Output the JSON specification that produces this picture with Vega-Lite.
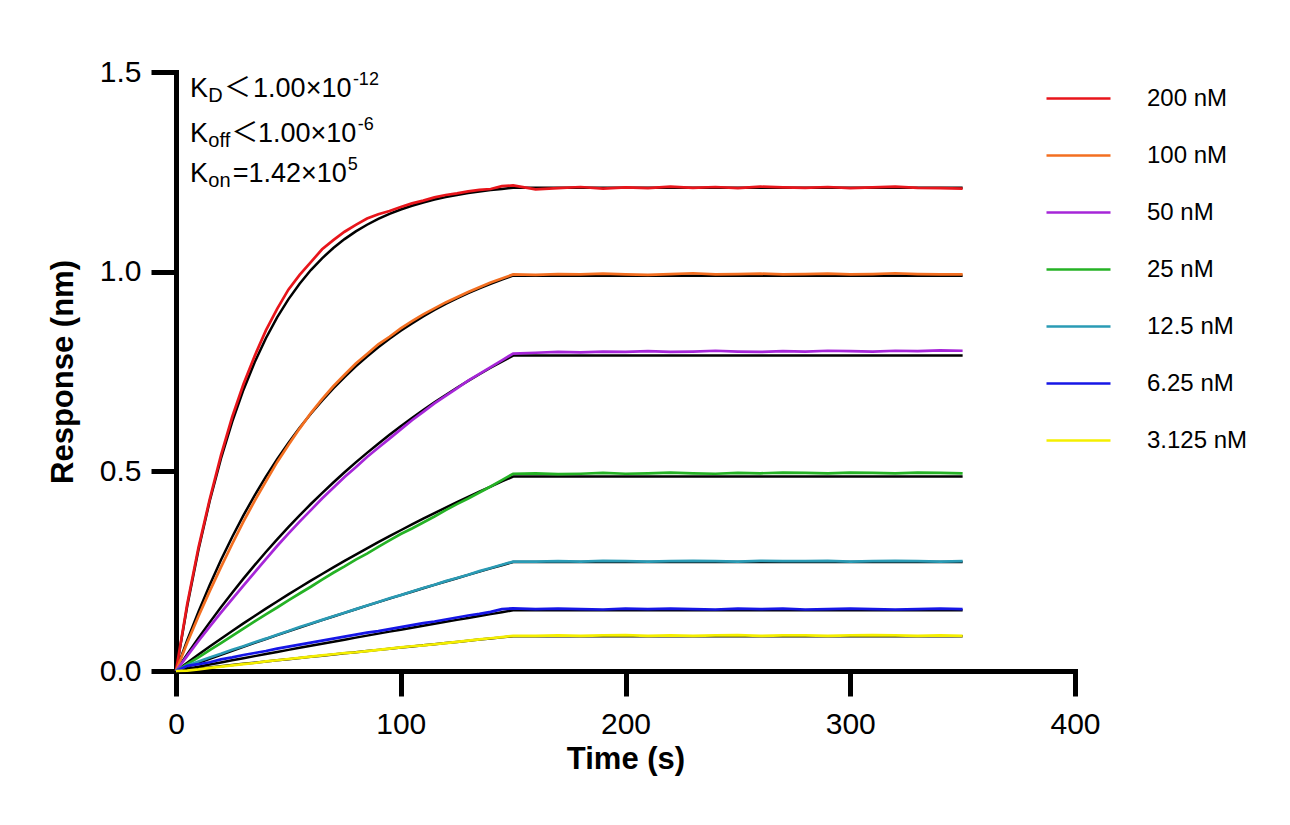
{
  "$schema": "https://vega.github.io/schema/vega-lite/v6.json",
  "autosize": "none",
  "width": 899,
  "height": 599,
  "padding": {"left": 176, "top": 72, "right": 215, "bottom": 154},
  "datasets": {
    "series": [
      {"key": "c200", "conc": "200 nM"},
      {"key": "c100", "conc": "100 nM"},
      {"key": "c50", "conc": "50 nM"},
      {"key": "c25", "conc": "25 nM"},
      {"key": "c12", "conc": "12.5 nM"},
      {"key": "c6", "conc": "6.25 nM"},
      {"key": "c3", "conc": "3.125 nM"}
    ],
    "fit": [
      {"t": 0, "c200": 0, "c100": 0, "c50": 0, "c25": 0, "c12": 0, "c6": 0, "c3": 0},
      {"t": 5, "c200": 0.1625, "c100": 0.077, "c50": 0.042, "c25": 0.0207, "c12": 0.0103, "c6": 0.0054, "c3": 0.003},
      {"t": 10, "c200": 0.3034, "c100": 0.1487, "c50": 0.0826, "c25": 0.0411, "c12": 0.0205, "c6": 0.0108, "c3": 0.006},
      {"t": 15, "c200": 0.4257, "c100": 0.2155, "c50": 0.1218, "c25": 0.0612, "c12": 0.0307, "c6": 0.0161, "c3": 0.009},
      {"t": 20, "c200": 0.5318, "c100": 0.2778, "c50": 0.1596, "c25": 0.0808, "c12": 0.0407, "c6": 0.0214, "c3": 0.0119},
      {"t": 25, "c200": 0.6239, "c100": 0.3357, "c50": 0.1961, "c25": 0.1002, "c12": 0.0507, "c6": 0.0267, "c3": 0.0149},
      {"t": 30, "c200": 0.7038, "c100": 0.3897, "c50": 0.2313, "c25": 0.1192, "c12": 0.0606, "c6": 0.032, "c3": 0.0179},
      {"t": 35, "c200": 0.7731, "c100": 0.44, "c50": 0.2652, "c25": 0.1378, "c12": 0.0703, "c6": 0.0373, "c3": 0.0208},
      {"t": 40, "c200": 0.8332, "c100": 0.4869, "c50": 0.298, "c25": 0.1561, "c12": 0.0801, "c6": 0.0425, "c3": 0.0238},
      {"t": 45, "c200": 0.8854, "c100": 0.5305, "c50": 0.3297, "c25": 0.1741, "c12": 0.0897, "c6": 0.0477, "c3": 0.0267},
      {"t": 50, "c200": 0.9306, "c100": 0.5711, "c50": 0.3602, "c25": 0.1918, "c12": 0.0992, "c6": 0.0529, "c3": 0.0296},
      {"t": 55, "c200": 0.9699, "c100": 0.609, "c50": 0.3897, "c25": 0.2092, "c12": 0.1086, "c6": 0.0581, "c3": 0.0326},
      {"t": 60, "c200": 1.004, "c100": 0.6442, "c50": 0.4182, "c25": 0.2263, "c12": 0.118, "c6": 0.0632, "c3": 0.0355},
      {"t": 65, "c200": 1.0335, "c100": 0.6771, "c50": 0.4456, "c25": 0.243, "c12": 0.1273, "c6": 0.0683, "c3": 0.0384},
      {"t": 70, "c200": 1.0592, "c100": 0.7077, "c50": 0.4721, "c25": 0.2595, "c12": 0.1365, "c6": 0.0734, "c3": 0.0413},
      {"t": 75, "c200": 1.0815, "c100": 0.7362, "c50": 0.4977, "c25": 0.2757, "c12": 0.1456, "c6": 0.0785, "c3": 0.0442},
      {"t": 80, "c200": 1.1008, "c100": 0.7627, "c50": 0.5224, "c25": 0.2916, "c12": 0.1546, "c6": 0.0836, "c3": 0.0471},
      {"t": 85, "c200": 1.1175, "c100": 0.7875, "c50": 0.5462, "c25": 0.3072, "c12": 0.1636, "c6": 0.0886, "c3": 0.05},
      {"t": 90, "c200": 1.132, "c100": 0.8105, "c50": 0.5692, "c25": 0.3226, "c12": 0.1724, "c6": 0.0936, "c3": 0.0529},
      {"t": 95, "c200": 1.1447, "c100": 0.8319, "c50": 0.5914, "c25": 0.3376, "c12": 0.1813, "c6": 0.0986, "c3": 0.0558},
      {"t": 100, "c200": 1.1556, "c100": 0.8519, "c50": 0.6128, "c25": 0.3525, "c12": 0.19, "c6": 0.1035, "c3": 0.0586},
      {"t": 105, "c200": 1.1651, "c100": 0.8705, "c50": 0.6335, "c25": 0.367, "c12": 0.1986, "c6": 0.1085, "c3": 0.0615},
      {"t": 110, "c200": 1.1733, "c100": 0.8879, "c50": 0.6534, "c25": 0.3813, "c12": 0.2072, "c6": 0.1134, "c3": 0.0644},
      {"t": 115, "c200": 1.1805, "c100": 0.904, "c50": 0.6727, "c25": 0.3953, "c12": 0.2157, "c6": 0.1183, "c3": 0.0672},
      {"t": 120, "c200": 1.1867, "c100": 0.9191, "c50": 0.6913, "c25": 0.4091, "c12": 0.2241, "c6": 0.1231, "c3": 0.0701},
      {"t": 125, "c200": 1.192, "c100": 0.9331, "c50": 0.7092, "c25": 0.4227, "c12": 0.2324, "c6": 0.128, "c3": 0.0729},
      {"t": 130, "c200": 1.1967, "c100": 0.9461, "c50": 0.7265, "c25": 0.436, "c12": 0.2407, "c6": 0.1328, "c3": 0.0757},
      {"t": 135, "c200": 1.2008, "c100": 0.9583, "c50": 0.7432, "c25": 0.4491, "c12": 0.2489, "c6": 0.1376, "c3": 0.0786},
      {"t": 140, "c200": 1.2043, "c100": 0.9696, "c50": 0.7593, "c25": 0.4619, "c12": 0.257, "c6": 0.1424, "c3": 0.0814},
      {"t": 145, "c200": 1.2073, "c100": 0.9802, "c50": 0.7749, "c25": 0.4746, "c12": 0.265, "c6": 0.1472, "c3": 0.0842},
      {"t": 150, "c200": 1.21, "c100": 0.99, "c50": 0.7899, "c25": 0.487, "c12": 0.273, "c6": 0.152, "c3": 0.087},
      {"t": 350, "c200": 1.21, "c100": 0.99, "c50": 0.7899, "c25": 0.487, "c12": 0.273, "c6": 0.152, "c3": 0.087}
    ],
    "obs": [
      {"t": 0, "c200": 0, "c100": 0, "c50": 0, "c25": 0, "c12": 0, "c6": 0, "c3": 0},
      {"t": 5, "c200": 0.168, "c100": 0.071, "c50": 0.038, "c25": 0.017, "c12": 0.014, "c6": 0.013, "c3": 0.001},
      {"t": 10, "c200": 0.309, "c100": 0.137, "c50": 0.075, "c25": 0.034, "c12": 0.024, "c6": 0.017, "c3": 0.004},
      {"t": 15, "c200": 0.43, "c100": 0.2, "c50": 0.111, "c25": 0.052, "c12": 0.034, "c6": 0.022, "c3": 0.008},
      {"t": 20, "c200": 0.54, "c100": 0.26, "c50": 0.146, "c25": 0.07, "c12": 0.043, "c6": 0.029, "c3": 0.011},
      {"t": 25, "c200": 0.636, "c100": 0.318, "c50": 0.18, "c25": 0.088, "c12": 0.053, "c6": 0.034, "c3": 0.014},
      {"t": 30, "c200": 0.718, "c100": 0.374, "c50": 0.214, "c25": 0.106, "c12": 0.062, "c6": 0.04, "c3": 0.017},
      {"t": 35, "c200": 0.789, "c100": 0.426, "c50": 0.247, "c25": 0.124, "c12": 0.072, "c6": 0.045, "c3": 0.02},
      {"t": 40, "c200": 0.853, "c100": 0.475, "c50": 0.28, "c25": 0.142, "c12": 0.081, "c6": 0.05, "c3": 0.024},
      {"t": 45, "c200": 0.907, "c100": 0.523, "c50": 0.313, "c25": 0.159, "c12": 0.091, "c6": 0.056, "c3": 0.027},
      {"t": 50, "c200": 0.955, "c100": 0.566, "c50": 0.344, "c25": 0.177, "c12": 0.1, "c6": 0.061, "c3": 0.03},
      {"t": 55, "c200": 0.992, "c100": 0.607, "c50": 0.374, "c25": 0.194, "c12": 0.11, "c6": 0.066, "c3": 0.033},
      {"t": 60, "c200": 1.024, "c100": 0.646, "c50": 0.403, "c25": 0.211, "c12": 0.119, "c6": 0.071, "c3": 0.036},
      {"t": 65, "c200": 1.056, "c100": 0.681, "c50": 0.432, "c25": 0.229, "c12": 0.128, "c6": 0.076, "c3": 0.039},
      {"t": 70, "c200": 1.079, "c100": 0.713, "c50": 0.459, "c25": 0.246, "c12": 0.137, "c6": 0.081, "c3": 0.042},
      {"t": 75, "c200": 1.1, "c100": 0.742, "c50": 0.486, "c25": 0.262, "c12": 0.146, "c6": 0.086, "c3": 0.045},
      {"t": 80, "c200": 1.117, "c100": 0.77, "c50": 0.51, "c25": 0.279, "c12": 0.155, "c6": 0.091, "c3": 0.047},
      {"t": 85, "c200": 1.133, "c100": 0.794, "c50": 0.536, "c25": 0.294, "c12": 0.164, "c6": 0.096, "c3": 0.05},
      {"t": 90, "c200": 1.144, "c100": 0.818, "c50": 0.559, "c25": 0.311, "c12": 0.173, "c6": 0.1, "c3": 0.053},
      {"t": 95, "c200": 1.152, "c100": 0.837, "c50": 0.582, "c25": 0.327, "c12": 0.182, "c6": 0.105, "c3": 0.056},
      {"t": 100, "c200": 1.162, "c100": 0.858, "c50": 0.605, "c25": 0.343, "c12": 0.19, "c6": 0.11, "c3": 0.059},
      {"t": 105, "c200": 1.171, "c100": 0.876, "c50": 0.628, "c25": 0.357, "c12": 0.199, "c6": 0.115, "c3": 0.062},
      {"t": 110, "c200": 1.178, "c100": 0.893, "c50": 0.649, "c25": 0.372, "c12": 0.208, "c6": 0.12, "c3": 0.064},
      {"t": 115, "c200": 1.186, "c100": 0.908, "c50": 0.67, "c25": 0.387, "c12": 0.216, "c6": 0.124, "c3": 0.067},
      {"t": 120, "c200": 1.192, "c100": 0.923, "c50": 0.689, "c25": 0.403, "c12": 0.225, "c6": 0.129, "c3": 0.07},
      {"t": 125, "c200": 1.196, "c100": 0.936, "c50": 0.708, "c25": 0.418, "c12": 0.233, "c6": 0.134, "c3": 0.073},
      {"t": 130, "c200": 1.201, "c100": 0.949, "c50": 0.727, "c25": 0.432, "c12": 0.241, "c6": 0.139, "c3": 0.076},
      {"t": 135, "c200": 1.205, "c100": 0.961, "c50": 0.744, "c25": 0.447, "c12": 0.25, "c6": 0.143, "c3": 0.079},
      {"t": 140, "c200": 1.207, "c100": 0.973, "c50": 0.761, "c25": 0.462, "c12": 0.258, "c6": 0.148, "c3": 0.082},
      {"t": 145, "c200": 1.214, "c100": 0.983, "c50": 0.778, "c25": 0.478, "c12": 0.266, "c6": 0.155, "c3": 0.085},
      {"t": 150, "c200": 1.216, "c100": 0.993, "c50": 0.795, "c25": 0.494, "c12": 0.274, "c6": 0.157, "c3": 0.088},
      {"t": 160, "c200": 1.206, "c100": 0.992, "c50": 0.797, "c25": 0.495, "c12": 0.274, "c6": 0.155, "c3": 0.088},
      {"t": 170, "c200": 1.209, "c100": 0.994, "c50": 0.799, "c25": 0.493, "c12": 0.275, "c6": 0.156, "c3": 0.089},
      {"t": 180, "c200": 1.212, "c100": 0.993, "c50": 0.798, "c25": 0.494, "c12": 0.274, "c6": 0.155, "c3": 0.088},
      {"t": 190, "c200": 1.208, "c100": 0.995, "c50": 0.8, "c25": 0.496, "c12": 0.276, "c6": 0.154, "c3": 0.089},
      {"t": 200, "c200": 1.211, "c100": 0.993, "c50": 0.799, "c25": 0.494, "c12": 0.275, "c6": 0.156, "c3": 0.09},
      {"t": 210, "c200": 1.209, "c100": 0.992, "c50": 0.801, "c25": 0.495, "c12": 0.274, "c6": 0.155, "c3": 0.088},
      {"t": 220, "c200": 1.213, "c100": 0.994, "c50": 0.799, "c25": 0.497, "c12": 0.275, "c6": 0.156, "c3": 0.089},
      {"t": 230, "c200": 1.21, "c100": 0.996, "c50": 0.8, "c25": 0.495, "c12": 0.276, "c6": 0.155, "c3": 0.088},
      {"t": 240, "c200": 1.212, "c100": 0.993, "c50": 0.802, "c25": 0.494, "c12": 0.275, "c6": 0.154, "c3": 0.089},
      {"t": 250, "c200": 1.209, "c100": 0.994, "c50": 0.8, "c25": 0.496, "c12": 0.274, "c6": 0.156, "c3": 0.09},
      {"t": 260, "c200": 1.213, "c100": 0.995, "c50": 0.799, "c25": 0.495, "c12": 0.276, "c6": 0.155, "c3": 0.088},
      {"t": 270, "c200": 1.211, "c100": 0.993, "c50": 0.801, "c25": 0.497, "c12": 0.275, "c6": 0.156, "c3": 0.089},
      {"t": 280, "c200": 1.21, "c100": 0.994, "c50": 0.8, "c25": 0.496, "c12": 0.275, "c6": 0.154, "c3": 0.089},
      {"t": 290, "c200": 1.212, "c100": 0.995, "c50": 0.802, "c25": 0.495, "c12": 0.276, "c6": 0.155, "c3": 0.088},
      {"t": 300, "c200": 1.209, "c100": 0.993, "c50": 0.801, "c25": 0.497, "c12": 0.274, "c6": 0.156, "c3": 0.089},
      {"t": 310, "c200": 1.211, "c100": 0.994, "c50": 0.8, "c25": 0.496, "c12": 0.275, "c6": 0.155, "c3": 0.09},
      {"t": 320, "c200": 1.213, "c100": 0.996, "c50": 0.802, "c25": 0.495, "c12": 0.276, "c6": 0.154, "c3": 0.089},
      {"t": 330, "c200": 1.21, "c100": 0.994, "c50": 0.801, "c25": 0.497, "c12": 0.275, "c6": 0.155, "c3": 0.088},
      {"t": 340, "c200": 1.209, "c100": 0.993, "c50": 0.803, "c25": 0.496, "c12": 0.274, "c6": 0.156, "c3": 0.089},
      {"t": 350, "c200": 1.208, "c100": 0.993, "c50": 0.802, "c25": 0.495, "c12": 0.275, "c6": 0.155, "c3": 0.088}
    ],
    "notes": [
      {"t": 6.23, "r": 1.4367, "text": "K", "part": "main"},
      {"t": 14.4, "r": 1.4367, "text": "D", "part": "sub"},
      {"t": 21.4, "r": 1.4367, "text": "＜", "part": "main"},
      {"t": 34.3, "r": 1.4367, "text": "1.00×10", "part": "main"},
      {"t": 78.7, "r": 1.4367, "text": "-12", "part": "sup"},
      {"t": 6.23, "r": 1.3255, "text": "K", "part": "main"},
      {"t": 14.4, "r": 1.3255, "text": "off", "part": "sub"},
      {"t": 24.6, "r": 1.3255, "text": "＜", "part": "main"},
      {"t": 36.5, "r": 1.3255, "text": "1.00×10", "part": "main"},
      {"t": 80.9, "r": 1.3255, "text": "-6", "part": "sup"},
      {"t": 6.23, "r": 1.2253, "text": "K", "part": "main"},
      {"t": 14.4, "r": 1.2253, "text": "on", "part": "sub"},
      {"t": 25.2, "r": 1.2253, "text": "=1.42×10", "part": "main"},
      {"t": 76.4, "r": 1.2253, "text": "5", "part": "sup"}
    ]
  },
  "layer": [
    {
      "data": {"name": "fit"},
      "transform": [{"fold": ["c200", "c100", "c50", "c25", "c12", "c6", "c3"], "as": ["key", "r"]}],
      "mark": {"type": "line", "color": "black", "strokeWidth": 2.5},
      "encoding": {
        "x": {"field": "t", "type": "quantitative", "scale": {"domain": [0, 400], "nice": false},
          "axis": {"title": "Time (s)", "values": [0, 100, 200, 300, 400]}},
        "y": {"field": "r", "type": "quantitative", "scale": {"domain": [0, 1.5], "nice": false},
          "axis": {"title": "Response (nm)", "values": [0, 0.5, 1, 1.5], "format": ".1f"}},
        "detail": {"field": "key"}
      }
    },
    {
      "data": {"name": "obs"},
      "transform": [
        {"fold": ["c200", "c100", "c50", "c25", "c12", "c6", "c3"], "as": ["key", "r"]},
        {"lookup": "key", "from": {"data": {"name": "series"}, "key": "key", "fields": ["conc"]}}
      ],
      "mark": {"type": "line", "strokeWidth": 2.7},
      "encoding": {
        "x": {"field": "t", "type": "quantitative"},
        "y": {"field": "r", "type": "quantitative"},
        "color": {
          "field": "conc", "type": "nominal",
          "scale": {
            "domain": ["200 nM", "100 nM", "50 nM", "25 nM", "12.5 nM", "6.25 nM", "3.125 nM"],
            "range": ["#e8151b", "#f36f21", "#a626d8", "#25b225", "#2a9bb5", "#1616e6", "#f5ef00"]
          },
          "legend": {"title": null, "orient": "none", "legendX": 869, "legendY": -7}
        }
      }
    },
    {
      "data": {"name": "notes"},
      "transform": [{"filter": {"field": "part", "equal": "main"}}],
      "mark": {"type": "text", "align": "left", "baseline": "alphabetic", "fontSize": 27, "font": "Liberation Sans, Noto Sans CJK SC", "color": "black"},
      "encoding": {
        "x": {"field": "t", "type": "quantitative"},
        "y": {"field": "r", "type": "quantitative"},
        "text": {"field": "text"}
      }
    },
    {
      "data": {"name": "notes"},
      "transform": [{"filter": {"field": "part", "equal": "sub"}}],
      "mark": {"type": "text", "align": "left", "baseline": "alphabetic", "fontSize": 20, "dy": 5, "font": "Liberation Sans", "color": "black"},
      "encoding": {
        "x": {"field": "t", "type": "quantitative"},
        "y": {"field": "r", "type": "quantitative"},
        "text": {"field": "text"}
      }
    },
    {
      "data": {"name": "notes"},
      "transform": [{"filter": {"field": "part", "equal": "sup"}}],
      "mark": {"type": "text", "align": "left", "baseline": "alphabetic", "fontSize": 18, "dy": -12, "font": "Liberation Sans", "color": "black"},
      "encoding": {
        "x": {"field": "t", "type": "quantitative"},
        "y": {"field": "r", "type": "quantitative"},
        "text": {"field": "text"}
      }
    }
  ],
  "config": {
    "view": {"stroke": null},
    "font": "Liberation Sans",
    "axis": {
      "grid": false,
      "domainColor": "black",
      "domainWidth": 5,
      "domainCap": "square",
      "tickColor": "black",
      "tickWidth": 5,
      "tickSize": 25,
      "labelColor": "black",
      "labelFont": "Liberation Sans",
      "labelFontSize": 30,
      "labelFlush": false,
      "labelOverlap": false,
      "titleColor": "black",
      "titleFont": "Liberation Sans",
      "titleFontSize": 31,
      "titleFontWeight": "bold"
    },
    "axisX": {"labelPadding": 13, "titlePadding": 5},
    "axisY": {"labelPadding": 10, "titlePadding": 20},
    "legend": {
      "symbolType": "stroke",
      "symbolSize": 4096,
      "symbolStrokeWidth": 2.7,
      "labelFont": "Liberation Sans",
      "labelFontSize": 24,
      "labelColor": "black",
      "labelOffset": 35,
      "rowPadding": 11
    }
  }
}
